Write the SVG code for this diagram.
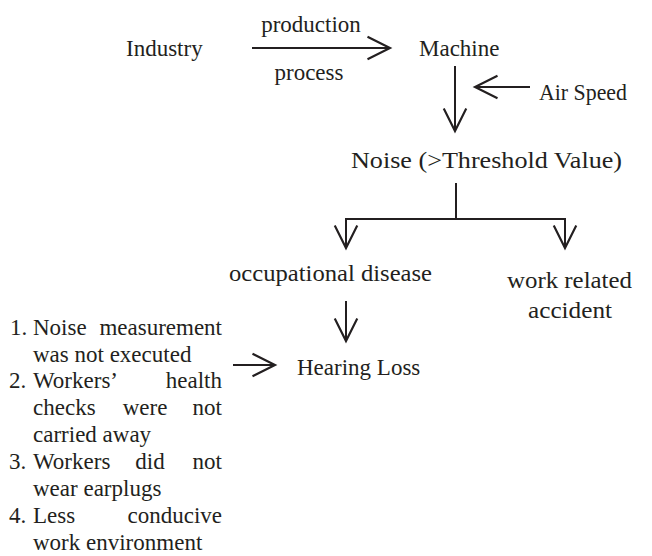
<svg xmlns="http://www.w3.org/2000/svg" width="652" height="556" viewBox="0 0 652 556">
<defs>
<marker id="ah" markerUnits="userSpaceOnUse" markerWidth="30" markerHeight="30" viewBox="-24 -12 28 24" refX="0" refY="0" orient="auto">
<path d="M -21 -10.5 L 0 0 L -21 10.5" fill="none" stroke="#231f20" stroke-width="2"/>
</marker>
<style>
text{font-family:"Liberation Serif","Times New Roman",serif;font-size:23px;fill:#231f20}
.c{stroke:#231f20;stroke-width:2;fill:none}
.a{marker-end:url(#ah)}
.m{text-anchor:middle}
.e{text-anchor:end}
</style>
</defs>
<rect width="652" height="556" fill="#fff"/>
<g id="connectors">
<line class="c a" x1="252" y1="48" x2="390" y2="48"/>
<line class="c a" x1="455" y1="66" x2="455" y2="131"/>
<line class="c a" x1="530" y1="87" x2="475" y2="87"/>
<line class="c" x1="456" y1="183" x2="456" y2="219"/>
<line class="c" x1="345" y1="219" x2="566" y2="219"/>
<line class="c a" x1="346" y1="219" x2="346" y2="248"/>
<line class="c a" x1="565" y1="219" x2="565" y2="248"/>
<line class="c a" x1="346" y1="301" x2="346" y2="341"/>
<line class="c a" x1="233" y1="365" x2="275" y2="365"/>
</g>
<g id="industry"><text x="126" y="56">Industry</text></g>
<g id="process-label"><text class="m" x="311" y="32">production</text><text class="m" x="309" y="80">process</text></g>
<g id="machine"><text x="419" y="56">Machine</text></g>
<g id="air-speed"><text x="539" y="100" textLength="88" lengthAdjust="spacingAndGlyphs">Air Speed</text></g>
<g id="noise"><text x="351" y="168" textLength="271" lengthAdjust="spacingAndGlyphs">Noise (&gt;Threshold Value)</text></g>
<g id="occupational-disease"><text x="229" y="281" textLength="203" lengthAdjust="spacingAndGlyphs">occupational disease</text></g>
<g id="work-accident"><text x="507" y="288" textLength="125" lengthAdjust="spacingAndGlyphs">work related</text><text x="528" y="318" textLength="84" lengthAdjust="spacingAndGlyphs">accident</text></g>
<g id="hearing-loss"><text x="297" y="375">Hearing Loss</text></g>
<g id="causes">
<text x="10" y="335">1.</text><text x="33" y="335">Noise</text><text class="e" x="222" y="335">measurement</text>
<text x="33" y="362">was not executed</text>
<text x="9" y="388">2.</text><text x="33" y="388">Workers’</text><text class="e" x="222" y="388">health</text>
<text x="33" y="415">checks</text><text class="m" x="145" y="415">were</text><text class="e" x="222" y="415">not</text>
<text x="33" y="442">carried away</text>
<text x="9" y="469">3.</text><text x="33" y="469">Workers</text><text class="m" x="150" y="469">did</text><text class="e" x="222" y="469">not</text>
<text x="33" y="496">wear earplugs</text>
<text x="9" y="523">4.</text><text x="33" y="523">Less</text><text class="e" x="222" y="523">conducive</text>
<text x="33" y="550">work environment</text>
</g>
</svg>
